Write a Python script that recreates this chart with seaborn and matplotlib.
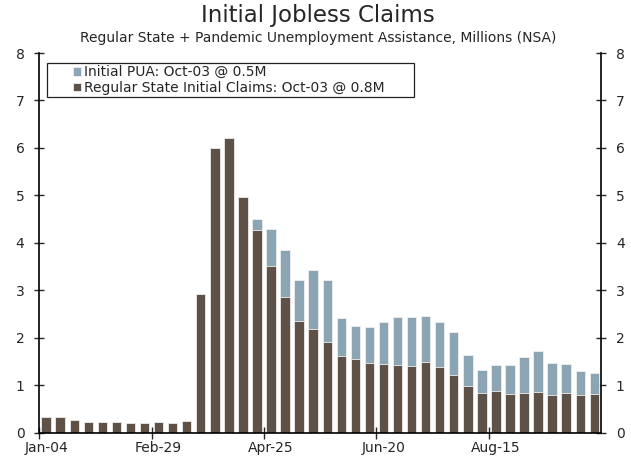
import numpy as np
import pandas as pd
import matplotlib
matplotlib.use("Agg")
import matplotlib.pyplot as plt
from matplotlib.patches import Rectangle
import seaborn as sns

# weekly dates, Jan-04 .. Oct-03 (2020)
weeks = pd.date_range("2020-01-04", "2020-10-03", freq="7D").strftime("%b-%d").tolist()

# regular state initial claims, millions
regular = [0.34, 0.34, 0.28, 0.23, 0.23, 0.22, 0.21, 0.20, 0.22, 0.20,
           0.25, 2.93, 6.01, 6.21, 4.97, 4.28, 3.51, 2.86, 2.35, 2.18,
           1.91, 1.61, 1.55, 1.47, 1.46, 1.42, 1.40, 1.50, 1.38, 1.21,
           0.98, 0.84, 0.89, 0.82, 0.84, 0.87, 0.79, 0.83, 0.79, 0.81]

# initial PUA claims, millions (zero before the program started)
pua = [0.0] * 15 + [0.23, 0.79, 1.00, 0.86, 1.25,
                    1.32, 0.81, 0.71, 0.77, 0.88, 1.01, 1.04, 0.96, 0.96, 0.91,
                    0.67, 0.49, 0.53, 0.62, 0.75, 0.86, 0.68, 0.62, 0.52, 0.46]

tick_labels = ["Jan-04", "Feb-29", "Apr-25", "Jun-20", "Aug-15"]

df = pd.DataFrame({"week": weeks, "regular": regular, "pua": pua})
df["total"] = df["regular"] + df["pua"]

colors = {
    'pua': '#8ba5b5',       # blue grey
    'regular': '#5e5248'    # dark brown
}

sns.set_style("white")
plt.rcParams['font.family'] = ['DejaVu Sans']

fig = plt.figure(figsize=(6.31, 4.61), dpi=100)
ax = fig.add_axes([0.062, 0.061, 0.891, 0.824])

sns.barplot(data=df, x="week", y="total", color=colors['pua'], width=0.67,
            edgecolor='#eeeeee', linewidth=0.6, saturation=1, ax=ax,
            label="Initial PUA: Oct-03 @ 0.5M")
sns.barplot(data=df, x="week", y="regular", color=colors['regular'], width=0.67,
            edgecolor='#eeeeee', linewidth=0.6, saturation=1, ax=ax,
            label="Regular State Initial Claims: Oct-03 @ 0.8M")

ax.set_xlim(-0.5, len(weeks) - 0.5)
ax.set_ylim(0, 8)

# labels sit on the bar, tick marks on the bar's left edge
tick_pos = [weeks.index(t) for t in tick_labels]
ax.set_xticks(tick_pos)
ax.set_xticklabels(tick_labels, fontsize=10)
ax.set_xticks([p - 0.5 for p in tick_pos], minor=True)
ax.tick_params(axis='x', which='major', length=0, pad=6)
ax.tick_params(axis='x', which='minor', direction='inout', length=8, width=1, bottom=True)

ax.set_yticks(range(0, 9))
ax.tick_params(axis='y', which='major', direction='inout', length=7, width=1, pad=7,
               labelsize=10, left=True, right=True, labelleft=True, labelright=True)
ax.set_xlabel("")
ax.set_ylabel("")

for side in ['left', 'right', 'bottom']:
    ax.spines[side].set_visible(True)
    ax.spines[side].set_color('black')
    ax.spines[side].set_linewidth(1.2)
ax.spines['top'].set_visible(False)

# legend: box drawn by hand, entries indented inside it
ax.add_patch(Rectangle((0.014, 0.884), 0.652, 0.09, transform=ax.transAxes,
                       facecolor='white', edgecolor='#222222', linewidth=0.9, zorder=4))
leg = ax.legend(loc='upper left', bbox_to_anchor=(0.06, 0.968), fontsize=10,
                frameon=False, handlelength=0.58, handleheight=0.58, handletextpad=0.25,
                borderpad=0, labelspacing=0.12, borderaxespad=0)
leg.set_zorder(5)

fig.text(0.504, 0.953, "Initial Jobless Claims", ha='center', va='baseline', fontsize=16.5)
fig.text(0.504, 0.909, "Regular State + Pandemic Unemployment Assistance, Millions (NSA)",
         ha='center', va='baseline', fontsize=10)

fig.savefig("out.png", dpi=100)
